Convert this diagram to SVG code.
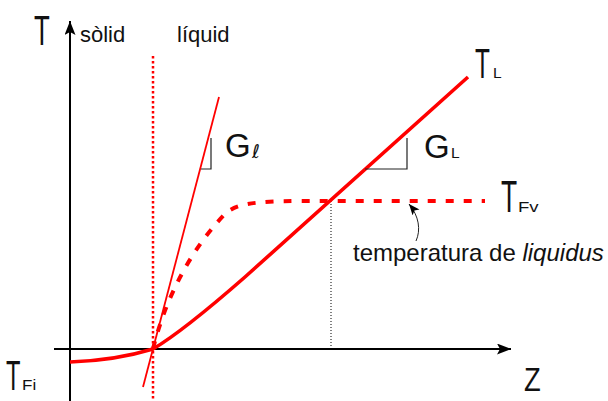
<svg xmlns="http://www.w3.org/2000/svg" width="608" height="401" viewBox="0 0 608 401">
  <style>
    .t { font-family: "Liberation Sans", "DejaVu Sans", sans-serif; fill: #111; }
    .axis { stroke: #000; stroke-width: 2; fill: none; }
    .red { stroke: #ff0000; fill: none; }
    .tick { stroke: #222; stroke-width: 1.2; fill: none; }
  </style>
  <defs>
    <marker id="ah" markerUnits="userSpaceOnUse" markerWidth="15" markerHeight="12" refX="14" refY="5.5" orient="auto">
      <path d="M0,0 L14,5.5 L0,11 L3,5.5 z" fill="#000"/>
    </marker>
    <marker id="ah2" markerUnits="userSpaceOnUse" markerWidth="12" markerHeight="10" refX="11" refY="4.5" orient="auto">
      <path d="M0,0 L11,4.5 L0,9 L2.5,4.5 z" fill="#000"/>
    </marker>
  </defs>

  <g id="axes">
    <line class="axis" x1="70" y1="401" x2="70" y2="21" marker-end="url(#ah)"/>
    <line class="axis" x1="54" y1="349" x2="511" y2="349" marker-end="url(#ah)"/>
  </g>

  <g id="connectors">
    <line class="red" x1="153" y1="56" x2="153" y2="401" stroke-width="2.5" stroke-dasharray="2.5,2.5"/>
    <line x1="331" y1="201" x2="331" y2="349" stroke="#000" stroke-width="1" stroke-dasharray="1,2"/>
    <line class="red" x1="143" y1="387" x2="219" y2="97" stroke-width="1.8"/>
    <path class="red" stroke-width="3.6" d="M70,362 C100,361 130,356 153,349 C175,336 205,312 245,277 L468,77"/>
    <path class="red" stroke-width="4" stroke-dasharray="8,10" d="M153,349 C165,300 190,250 225,214 C235,204 255,201 300,201 L485,201"/>
    <path class="tick" d="M211,138 L211,169 L201,169"/>
    <path class="tick" d="M407,138 L407,169 L365,169"/>
    <path d="M416,241 C421,230 419,216 409,204" stroke="#222" stroke-width="1" fill="none" marker-end="url(#ah2)"/>
  </g>

  <g id="labels">
    <text class="t" transform="translate(34,45) scale(0.6,1)" font-size="43">T</text>
    <text class="t" x="80" y="42" font-size="22">sòlid</text>
    <text class="t" x="177" y="42" font-size="22">líquid</text>
    <g id="TL">
      <text class="t" transform="translate(475,78) scale(0.58,1)" font-size="42">T</text>
      <text class="t" x="493" y="78" font-size="15.5">L</text>
    </g>
    <g id="Gl">
      <text class="t" x="225" y="157" font-size="33">G</text>
      <text x="252" y="158" font-size="19" font-family="DejaVu Sans, sans-serif" font-style="italic" fill="#111">ℓ</text>
    </g>
    <g id="GL">
      <text class="t" x="424" y="158" font-size="33">G</text>
      <text class="t" x="451" y="158" font-size="15.5">L</text>
    </g>
    <g id="TFv">
      <text class="t" transform="translate(501,212) scale(0.6,1)" font-size="44">T</text>
      <text class="t" transform="translate(518,212) scale(1.2,1)" font-size="15.5">Fv</text>
    </g>
    <g id="TFi">
      <text class="t" transform="translate(6,390) scale(0.55,1)" font-size="43">T</text>
      <text class="t" transform="translate(22,390) scale(1.1,1)" font-size="15.5">Fi</text>
    </g>
    <text class="t" transform="translate(524,391) scale(0.83,1)" font-size="33">Z</text>
    <text class="t" x="353" y="261" font-size="24">temperatura de <tspan font-style="italic">liquidus</tspan></text>
  </g>
</svg>
